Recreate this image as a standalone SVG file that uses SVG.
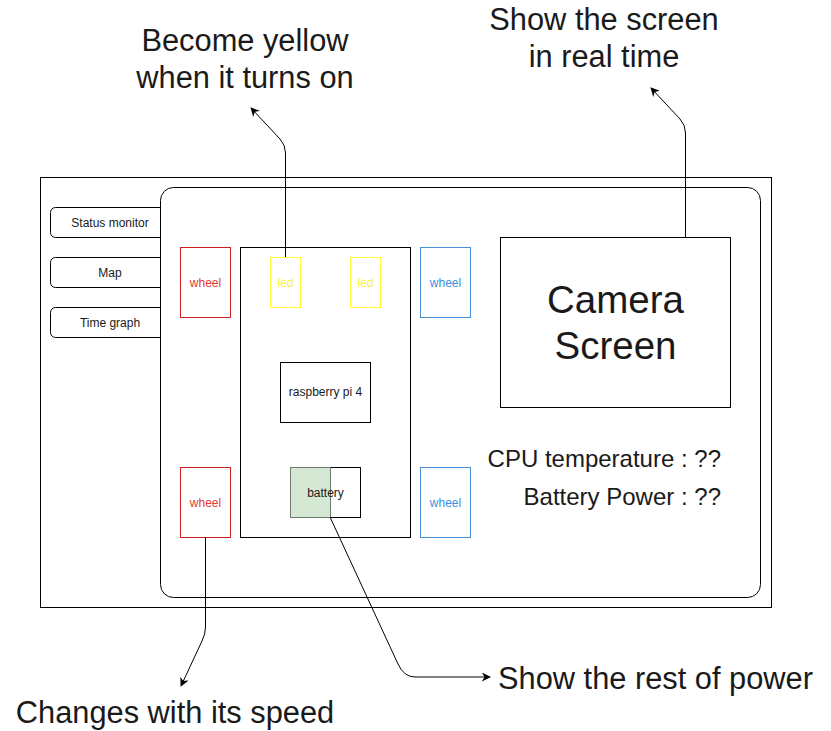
<svg xmlns="http://www.w3.org/2000/svg" width="831" height="731" viewBox="0 0 831 731">
<style>
text{font-family:"Liberation Sans",Arial,sans-serif;fill:#1a1a1a}
.s{font-size:12px}
.big{font-size:30.8px}
.box{fill:#fff;stroke:#000;stroke-width:1}
.red{fill:#fff;stroke:#cc1f1f}
.redt{fill:#e53935}
.blue{fill:#fff;stroke:#4a90d9}
.bluet{fill:#3d8fe0}
.yel{fill:#fff;stroke:#ffff33}
.yelt{fill:#f5f53a}
.conn{fill:none;stroke:#000;stroke-width:1}
</style>
<defs>
<marker id="arr" viewBox="0 0 10 10" refX="9" refY="5" markerWidth="9" markerHeight="9" markerUnits="userSpaceOnUse" orient="auto">
<path d="M0,0 L10,5 L0,10 L3,5 z" fill="#000"/>
</marker>
</defs>
<rect width="831" height="731" fill="#fff"/>
<g id="frame"><rect class="box" x="40.5" y="177.5" width="731" height="430"/></g>
<g id="tab-status"><rect class="box" x="50.5" y="207.5" width="120" height="30" rx="5"/><text class="s" x="110" y="227" text-anchor="middle">Status monitor</text></g>
<g id="tab-map"><rect class="box" x="50.5" y="257.5" width="120" height="30" rx="5"/><text class="s" x="110" y="277" text-anchor="middle">Map</text></g>
<g id="tab-time"><rect class="box" x="50.5" y="307.5" width="120" height="30" rx="5"/><text class="s" x="110" y="327" text-anchor="middle">Time graph</text></g>
<g id="panel"><rect class="box" x="160.5" y="187.5" width="600" height="410" rx="13"/></g>
<g id="wheel-fl"><rect class="red" x="180.5" y="247.5" width="50" height="70"/><text class="s redt" x="205.5" y="287" text-anchor="middle">wheel</text></g>
<g id="wheel-rl"><rect class="red" x="180.5" y="467.5" width="50" height="70"/><text class="s redt" x="205.5" y="507" text-anchor="middle">wheel</text></g>
<g id="wheel-fr"><rect class="blue" x="420.5" y="247.5" width="50" height="70"/><text class="s bluet" x="445.5" y="287" text-anchor="middle">wheel</text></g>
<g id="wheel-rr"><rect class="blue" x="420.5" y="467.5" width="50" height="70"/><text class="s bluet" x="445.5" y="507" text-anchor="middle">wheel</text></g>
<g id="board"><rect class="box" x="240.5" y="247.5" width="170" height="290"/></g>
<g id="led1"><rect class="yel" x="270.5" y="257.5" width="30" height="50"/><text class="s yelt" x="285.5" y="287" text-anchor="middle">led</text></g>
<g id="led2"><rect class="yel" x="350.5" y="257.5" width="30" height="50"/><text class="s yelt" x="365.5" y="287" text-anchor="middle">led</text></g>
<g id="rpi"><rect class="box" x="280.5" y="362.5" width="90" height="60"/><text class="s" x="325.5" y="396" text-anchor="middle">raspberry pi 4</text></g>
<g id="battery"><rect class="box" x="290.5" y="467.5" width="70" height="50"/><rect x="290.5" y="467.5" width="40" height="50" fill="#d5e8d4" stroke="#6f7a6f"/><text class="s" x="325.5" y="497" text-anchor="middle">battery</text></g>
<g id="camera"><rect class="box" x="500.5" y="237.5" width="230" height="170"/><text x="615.5" y="313" text-anchor="middle" font-size="38.5">Camera</text><text x="615.5" y="359" text-anchor="middle" font-size="38.5">Screen</text></g>
<g id="cpu-temp"><text x="721" y="467" text-anchor="end" font-size="24">CPU temperature : ??</text></g>
<g id="battery-power"><text x="721" y="505" text-anchor="end" font-size="24">Battery Power : ??</text></g>
<g id="label-led"><text class="big" x="245" y="51" text-anchor="middle">Become yellow</text><text class="big" x="245" y="88" text-anchor="middle">when it turns on</text></g>
<g id="label-camera"><text class="big" x="604" y="30" text-anchor="middle">Show the screen</text><text class="big" x="604" y="67" text-anchor="middle">in real time</text></g>
<g id="label-battery"><text class="big" x="498" y="689">Show the rest of power</text></g>
<g id="label-wheel"><text class="big" x="175" y="723" text-anchor="middle">Changes with its speed</text></g>
<g id="connectors">
<path class="conn" d="M285.5,257 L285.5,153 Q285.5,145 280,139 L251,108" marker-end="url(#arr)"/>
<path class="conn" d="M685.5,237 L685.5,133 Q685.5,125 680,119 L651,88" marker-end="url(#arr)"/>
<path class="conn" d="M205.5,537 L205.5,627 Q205.5,634 202,641 L181,686" marker-end="url(#arr)"/>
<path class="conn" d="M330,517 L398,664 Q404,677 415,677 L490,677" marker-end="url(#arr)"/>
</g>
</svg>
